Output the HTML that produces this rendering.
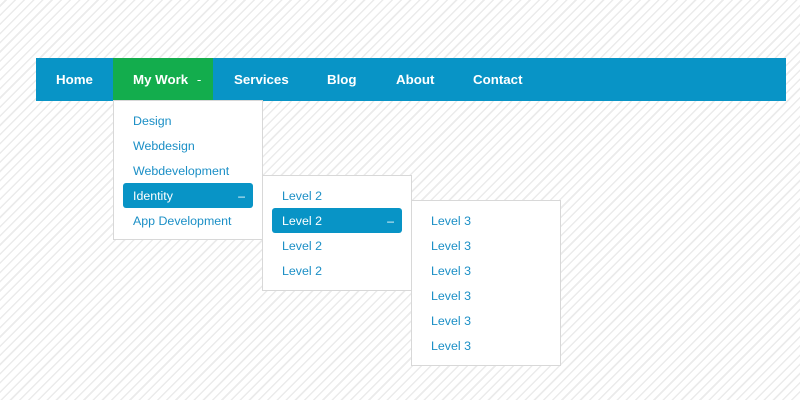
<!DOCTYPE html>
<html><head><style>
body{margin:0;width:800px;height:400px;position:relative;overflow:hidden;font-family:"Liberation Sans",Arial,sans-serif;
background:#fff repeating-linear-gradient(-45deg,#fff 0,#fff 5px,#ebebeb 5px,#ebebeb 6.5px);}
.nav{position:absolute;left:36px;top:58px;width:750px;height:43px;background:#0894c6;}
.nav span{position:absolute;top:0;line-height:43px;color:#fff;font-weight:bold;font-size:13.3px;}
.green{position:absolute;left:113px;top:58px;width:100px;height:43px;background:#13ad4d;}
.dd{position:absolute;background:#fff;border:1px solid #d8d8d8;box-sizing:border-box;}
.it{position:absolute;font-size:12.4px;color:#1b8fc6;line-height:25px;}
.hl{position:absolute;background:#0894c6;border-radius:3px;color:#fff;font-size:12.4px;line-height:26px;box-sizing:border-box;padding-left:10px;}
.hl b{position:absolute;right:8px;top:0;font-weight:normal;}
</style></head><body>
<div class="nav"></div>
<div class="green"></div>
<div class="nav" style="background:none">
<span style="left:20px">Home</span>
<span style="left:97px">My Work <span style="position:static;font-weight:normal;margin-left:5px">-</span></span>
<span style="left:198px">Services</span>
<span style="left:291px">Blog</span>
<span style="left:360px">About</span>
<span style="left:437px">Contact</span>
</div>
<div class="dd" style="left:113px;top:100px;width:150px;height:140px"></div>
<div class="it" style="left:133px;top:109px">Design</div>
<div class="it" style="left:133px;top:134px">Webdesign</div>
<div class="it" style="left:133px;top:159px">Webdevelopment</div>
<div class="hl" style="left:123px;top:183px;width:130px;height:25px">Identity<b>–</b></div>
<div class="it" style="left:133px;top:209px">App Development</div>

<div class="dd" style="left:262px;top:175px;width:150px;height:116px"></div>
<div class="it" style="left:282px;top:184px">Level 2</div>
<div class="hl" style="left:272px;top:208px;width:130px;height:25px">Level 2<b>–</b></div>
<div class="it" style="left:282px;top:234px">Level 2</div>
<div class="it" style="left:282px;top:259px">Level 2</div>

<div class="dd" style="left:411px;top:200px;width:150px;height:166px"></div>
<div class="it" style="left:431px;top:209px">Level 3</div>
<div class="it" style="left:431px;top:234px">Level 3</div>
<div class="it" style="left:431px;top:259px">Level 3</div>
<div class="it" style="left:431px;top:284px">Level 3</div>
<div class="it" style="left:431px;top:309px">Level 3</div>
<div class="it" style="left:431px;top:334px">Level 3</div>
</body></html>
